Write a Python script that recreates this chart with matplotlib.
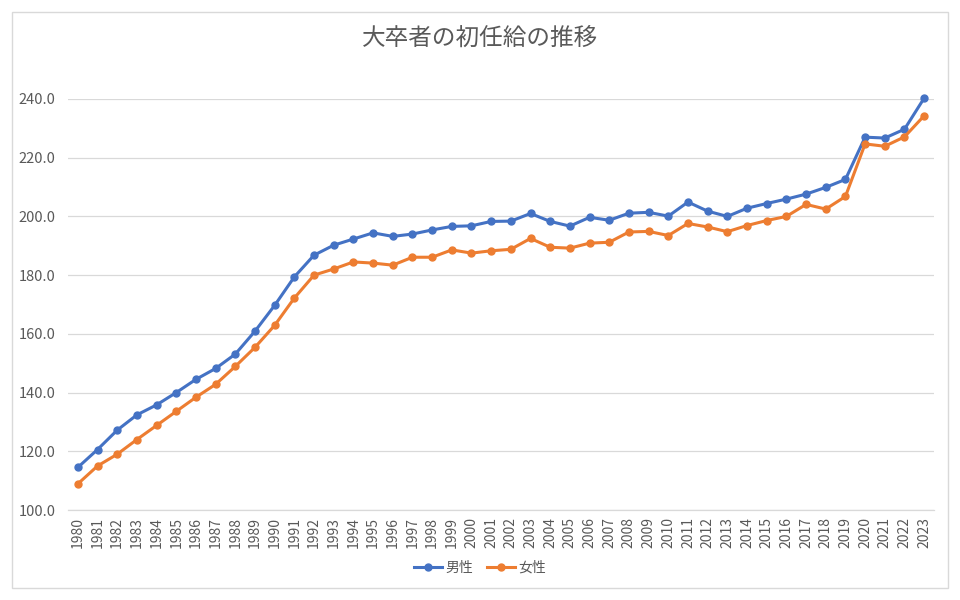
import matplotlib
matplotlib.use('Agg')
import matplotlib.pyplot as plt
from matplotlib.patches import Rectangle

plt.rcParams['font.family'] = ['Noto Sans CJK JP', 'DejaVu Sans']

# --- DATA ---
years = list(range(1980, 2024))
male = [114.5, 120.6, 127.2, 132.4, 135.8, 140.0, 144.5, 148.2, 153.1, 160.9,
        169.7, 179.4, 186.8, 190.2, 192.3, 194.4, 193.2, 194.0, 195.4, 196.6,
        196.8, 198.3, 198.4, 201.0, 198.3, 196.7, 199.7, 198.7, 201.1, 201.4,
        200.1, 204.9, 201.8, 200.0, 202.8, 204.4, 205.9, 207.6, 209.9, 212.6,
        227.0, 226.7, 229.7, 240.3]
female = [108.9, 115.0, 119.0, 124.0, 128.8, 133.6, 138.4, 142.8, 148.9, 155.4,
          162.9, 172.2, 180.0, 182.1, 184.5, 184.1, 183.4, 186.1, 186.1, 188.6,
          187.5, 188.3, 188.8, 192.5, 189.5, 189.2, 190.9, 191.2, 194.7, 194.9,
          193.5, 197.6, 196.4, 194.8, 196.9, 198.6, 200.0, 204.1, 202.5, 206.8,
          224.7, 223.9, 227.1, 234.3]
yticks = [100, 120, 140, 160, 180, 200, 220, 240]

BLUE = '#4472C4'
ORANGE = '#ED7D31'
GRID = '#D9D9D9'
TEXT = '#595959'

fig = plt.figure(figsize=(9.6, 6.0), dpi=100)
fig.patches.append(Rectangle((12 / 960, 12 / 600), 936 / 960, 576 / 600,
                             transform=fig.transFigure, fill=False,
                             edgecolor=GRID, linewidth=1.0))

ax = fig.add_axes([68 / 960, 90 / 600, 866 / 960, 411 / 600])
x = list(range(len(years)))

ax.plot(x, male, color=BLUE, lw=2.2, marker='o', markersize=5, label='男性',
        clip_on=False, zorder=3)
ax.plot(x, female, color=ORANGE, lw=2.2, marker='o', markersize=5, label='女性',
        clip_on=False, zorder=3)

ax.set_xlim(-0.5, len(years) - 0.5)
ax.set_ylim(100, 240)
ax.set_yticks(yticks)
ax.set_yticklabels([f'{v:.1f}' for v in yticks])
ax.set_xticks(x)
ax.set_xticklabels([str(y) for y in years], rotation=90)

ax.grid(axis='y', color=GRID, linewidth=0.9)
ax.set_axisbelow(True)
for s in ['top', 'right', 'left']:
    ax.spines[s].set_visible(False)
ax.spines['bottom'].set_color(GRID)
ax.spines['bottom'].set_linewidth(0.9)
ax.tick_params(axis='both', length=0, colors=TEXT)
ax.tick_params(axis='y', pad=9, labelsize=10.5)
ax.tick_params(axis='x', pad=5, labelsize=10)

fig.text(0.5, 1 - 38 / 600, '大卒者の初任給の推移', ha='center', va='center',
         fontsize=17, color=TEXT)

fig.legend(loc='center', bbox_to_anchor=(0.5, 32 / 600), ncol=2, frameon=False,
           fontsize=10, labelcolor=TEXT, handlelength=2.0, columnspacing=1.0,
           handletextpad=0.25)

fig.savefig('out.png', dpi=100)
